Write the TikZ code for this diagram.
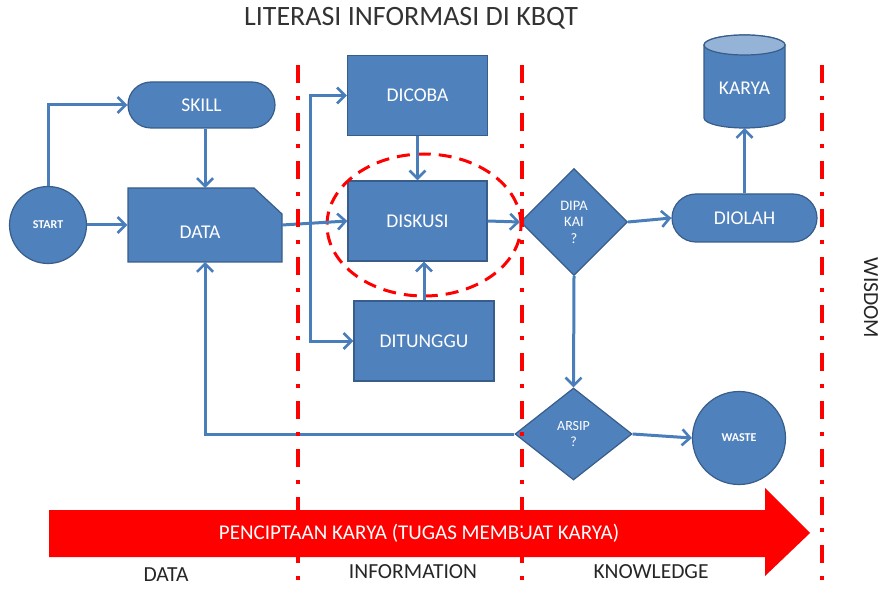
\documentclass[tikz,border=0pt]{standalone}
\usepackage{fontspec}
\setmainfont{Carlito}
\usetikzlibrary{arrows.meta,shapes.geometric,shapes.misc}
\definecolor{boxblue}{HTML}{4F81BD}
\definecolor{boxedge}{HTML}{385D8A}
\definecolor{linkblue}{HTML}{4A7EBB}
\definecolor{capblue}{HTML}{95B3D7}
\definecolor{lred}{HTML}{FF0000}
\tikzset{
  box/.style={fill=boxblue,draw=boxedge,line width=1.2pt,text=white,font=\fontsize{19.5}{22}\selectfont,inner sep=0pt},
  rbox/.style={box,rectangle},
  roundbox/.style={box,rounded rectangle},
  circbox/.style={box,circle},
  diabox/.style={box,diamond,aspect=1},
  link/.style={draw=linkblue,line width=3pt,-{Straight Barb[length=8pt,width=16pt,line width=2.6pt]}},
  zone/.style={draw=lred,line width=4pt,dash pattern=on 18pt off 13pt on 4pt off 13pt},
  lbl/.style={font=\fontsize{21.5}{24}\selectfont,text=black!85,inner sep=0pt}
}
\begin{document}
\begin{tikzpicture}[x=1pt,y=-1pt]
\useasboundingbox (0,0) rectangle (885,593);
% title
\node[font=\fontsize{28}{30}\selectfont,text=black!80,inner sep=0pt] (title) at (411,18) {LITERASI INFORMASI DI KBQT};
% big arrow
\fill[lred] (49,510) -- (765,510) -- (765,488) -- (810,533) -- (765,576) -- (765,557) -- (49,557) -- cycle;
\node[font=\fontsize{21}{24}\selectfont,text=white,inner sep=0pt] (arrowtext) at (419,533) {PENCIPTAAN KARYA (TUGAS MEMBUAT KARYA)};
\node[lbl] (ldata) at (166,575) {DATA};
\node[lbl] (linfo) at (413,572) {INFORMATION};
\node[lbl] (lknow) at (651,572) {KNOWLEDGE};
\node[lbl,rotate=-90] (lwis) at (871,298) {WISDOM};
% nodes
\node[circbox,minimum size=77pt,font=\bfseries\fontsize{12}{14}\selectfont] (start) at (48,225) {START};
\node[roundbox,minimum width=147pt,minimum height=46pt] (skill) at (201.5,105) {SKILL};
\node[box,draw=none,fill=none,minimum width=154pt,minimum height=74pt] (data) at (205,225) {};
\fill[boxblue,draw=boxedge,line width=1.2pt] (128,188) -- (254,188) -- (282,214) -- (282,262) -- (128,262) -- cycle;
\node[text=white,font=\fontsize{19.5}{22}\selectfont,inner sep=0pt] (datatext) at (200,232) {DATA};
\node[rbox,minimum width=140pt,minimum height=80pt] (dicoba) at (417.5,95.5) {DICOBA};
\node[rbox,minimum width=139pt,minimum height=80pt] (diskusi) at (417.5,221) {DISKUSI};
\node[rbox,minimum width=140pt,minimum height=80pt] (ditunggu) at (424,341) {DITUNGGU};
\node[diabox,minimum width=107pt,minimum height=107pt,font=\fontsize{14.5}{16.5}\selectfont,align=center] (dipakai) at (574,222) {DIPA\\KAI\\?};
\node[roundbox,minimum width=145pt,minimum height=48pt] (diolah) at (744.5,218) {DIOLAH};
\node[circbox,minimum size=93pt,font=\bfseries\fontsize{12}{14}\selectfont] (waste) at (739,438) {WASTE};
\node[box,diamond,minimum width=117pt,minimum height=92pt,aspect=1.27,font=\fontsize{14}{16.5}\selectfont,align=center] (arsip) at (573.5,434) {ARSIP\\?};
% cylinder KARYA
\fill[boxblue,draw=boxedge,line width=1.2pt] (704,45) -- (704,118) arc[start angle=180,end angle=360,x radius=40.5pt,y radius=10pt] -- (785,45) arc[start angle=0,end angle=180,x radius=40.5pt,y radius=10pt] -- cycle;
\fill[capblue,draw=boxedge,line width=1.2pt] (744.5,45) ellipse[x radius=40.5pt,y radius=10pt];
\node[text=white,font=\fontsize{19.5}{22}\selectfont,inner sep=0pt] (karya) at (744.5,88) {KARYA};
\coordinate (karyab) at (744.5,128);
% dashed ellipse
\draw[lred,line width=3pt,dash pattern=on 13pt off 8pt] (424,225) ellipse[x radius=97pt,y radius=71pt];
% connectors
\coordinate (bus) at (310,225);
\draw[link] (start.north) |- (skill.west);
\draw[link] (start.east) -- (data.west);
\draw[link] (skill.south -| 205,0) -- (205,188);
\draw[link] (282,225) -- (diskusi.west);
\draw[link] (bus) |- (dicoba.west);
\draw[link] (bus) |- (ditunggu.west);
\draw[link] (dicoba.south) -- (diskusi.north);
\draw[link] (ditunggu.north) -- (diskusi.south -| 424,0);
\draw[link] (diskusi.east) -- (dipakai.west);
\draw[link] (dipakai.east) -- (diolah.west);
\draw[link] (diolah.north) -- (karyab);
\draw[link] (dipakai.south) -- (arsip.north);
\draw[link] (arsip.east) -- (waste.west);
\draw[link] (arsip.west) -| (205,262);
% zone lines
\draw[zone] (298,65) -- (298,593);
\draw[zone] (522,65) -- (522,593);
\draw[zone] (822,65) -- (822,593);
\end{tikzpicture}
\end{document}
